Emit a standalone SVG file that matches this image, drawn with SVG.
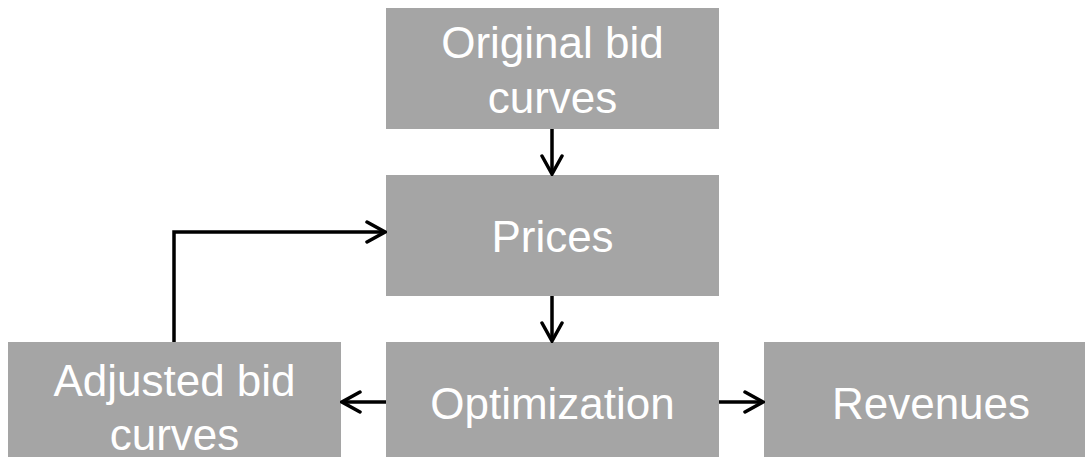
<svg xmlns="http://www.w3.org/2000/svg" width="1085" height="457" viewBox="0 0 1085 457">
  <defs>
    <marker id="arrow" viewBox="0 0 22 24" refX="20" refY="12" markerWidth="22" markerHeight="24" markerUnits="userSpaceOnUse" orient="auto">
      <path d="M2,2 L20,12 L2,22" fill="none" stroke="#000" stroke-width="3.5" stroke-linecap="round" stroke-linejoin="miter"/>
    </marker>
  </defs>
  <style>
    .box { fill: #a5a5a5; }
    .label { font-family: "Liberation Sans", Arial, sans-serif; font-size: 44px; fill: #ffffff; text-anchor: middle; }
    .edge { fill: none; stroke: #000; stroke-width: 3.5; marker-end: url(#arrow); }
  </style>
  <rect width="1085" height="457" fill="#ffffff"/>

  <g id="original">
    <rect class="box" x="386" y="8" width="333" height="121"/>
    <text class="label" x="552.5" y="58">Original bid</text>
    <text class="label" x="552.5" y="113">curves</text>
  </g>
  <g id="prices">
    <rect class="box" x="386" y="175" width="333" height="121"/>
    <text class="label" x="552.5" y="252">Prices</text>
  </g>
  <g id="optimization">
    <rect class="box" x="386" y="342" width="333" height="121"/>
    <text class="label" x="552.5" y="419">Optimization</text>
  </g>
  <g id="adjusted">
    <rect class="box" x="8" y="342" width="333" height="121"/>
    <text class="label" x="174.5" y="396">Adjusted bid</text>
    <text class="label" x="174.5" y="450">curves</text>
  </g>
  <g id="revenues">
    <rect class="box" x="764" y="342" width="333" height="121"/>
    <text class="label" x="931" y="419">Revenues</text>
  </g>

  <g id="connectors">
    <path class="edge" d="M552,129 L552,174"/>
    <path class="edge" d="M552,296 L552,341"/>
    <path class="edge" d="M386,402 L342,402"/>
    <path class="edge" d="M719,402 L763,402"/>
    <path class="edge" d="M174,342 L174,232 L385,232"/>
  </g>
</svg>
